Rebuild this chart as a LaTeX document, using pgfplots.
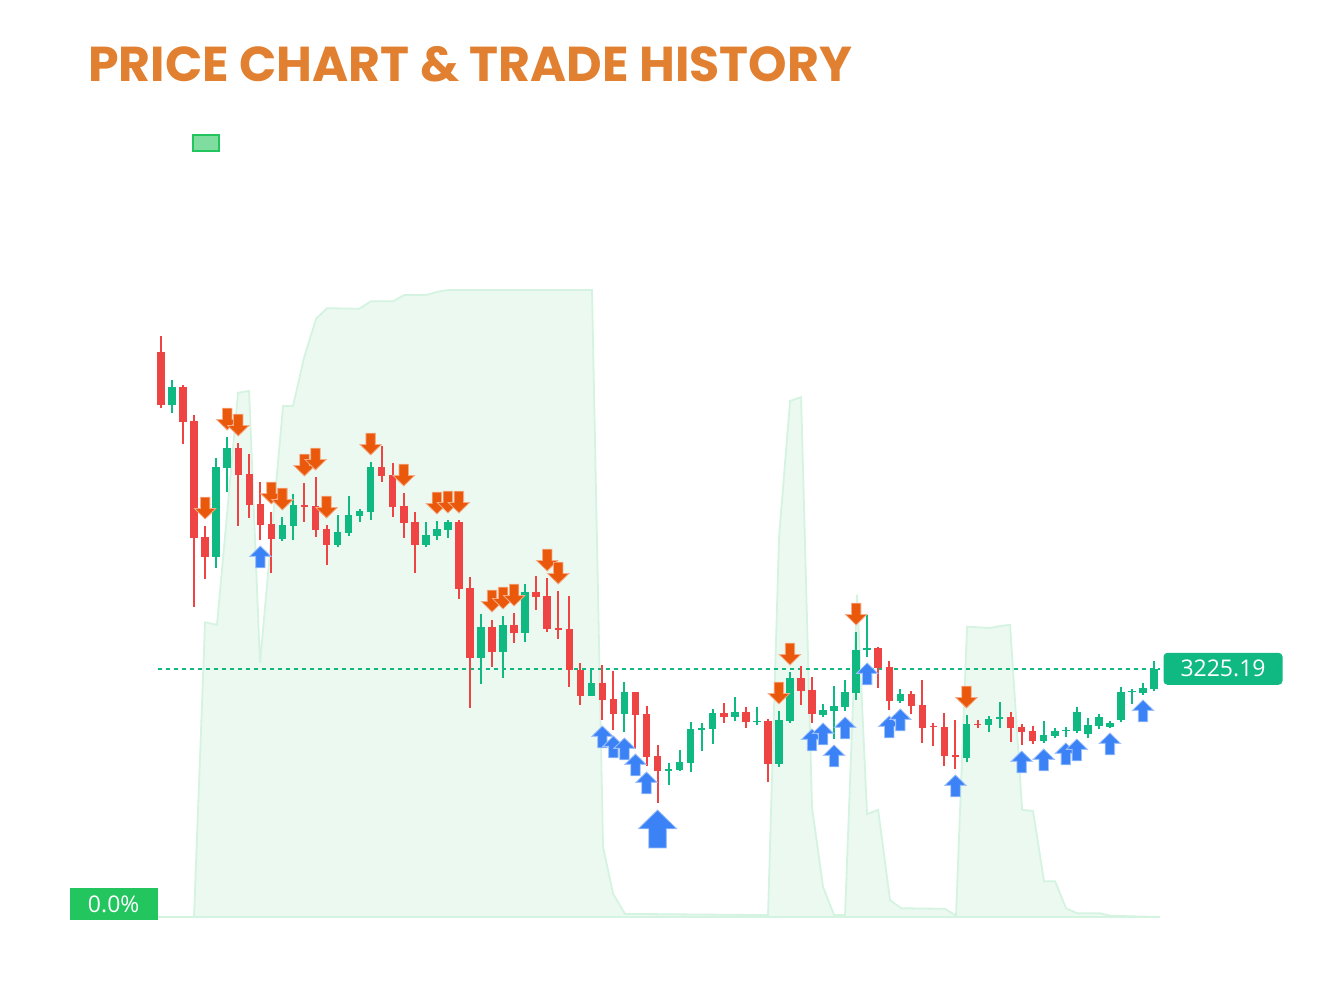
\documentclass[border=0pt]{standalone}
\usepackage{fontspec}
\setmainfont{Open Sans}
\newfontfamily\titlefont{Poppins}
\usepackage{pgfplots}
\pgfplotsset{compat=1.18}
\usepackage{pgfplotstable}

\definecolor{candgreen}{RGB}{16,185,129}
\definecolor{candred}{RGB}{239,68,68}
\definecolor{sellorange}{RGB}{234,88,12}
\definecolor{buyblue}{RGB}{59,130,246}
\definecolor{titleorange}{RGB}{225,128,48}
\definecolor{legendfill}{RGB}{128,221,160}
\definecolor{legendborder}{RGB}{34,197,94}
\definecolor{zerolab}{RGB}{34,197,94}
\definecolor{areafill}{RGB}{236,249,241}
\definecolor{areaedge}{RGB}{212,243,225}

\pgfdeclareplotmark{sell}{%
  \pgfpathmoveto{\pgfpoint{0pt}{0pt}}%
  \pgfpathlineto{\pgfpoint{5.3pt}{5.2pt}}%
  \pgfpathlineto{\pgfpoint{2.35pt}{5.2pt}}%
  \pgfpathlineto{\pgfpoint{2.35pt}{10.9pt}}%
  \pgfpathlineto{\pgfpoint{-2.35pt}{10.9pt}}%
  \pgfpathlineto{\pgfpoint{-2.35pt}{5.2pt}}%
  \pgfpathlineto{\pgfpoint{-5.3pt}{5.2pt}}%
  \pgfpathclose
  \pgfusepathqfillstroke}
\pgfdeclareplotmark{buy}{%
  \pgfpathmoveto{\pgfpoint{0pt}{0pt}}%
  \pgfpathlineto{\pgfpoint{5.3pt}{-5.2pt}}%
  \pgfpathlineto{\pgfpoint{2.35pt}{-5.2pt}}%
  \pgfpathlineto{\pgfpoint{2.35pt}{-10.9pt}}%
  \pgfpathlineto{\pgfpoint{-2.35pt}{-10.9pt}}%
  \pgfpathlineto{\pgfpoint{-2.35pt}{-5.2pt}}%
  \pgfpathlineto{\pgfpoint{-5.3pt}{-5.2pt}}%
  \pgfpathclose
  \pgfusepathqfillstroke}
\pgfdeclareplotmark{bigbuy}{%
  \pgfpathmoveto{\pgfpoint{0pt}{0pt}}%
  \pgfpathlineto{\pgfpoint{9.6pt}{-9.4pt}}%
  \pgfpathlineto{\pgfpoint{4.4pt}{-9.4pt}}%
  \pgfpathlineto{\pgfpoint{4.4pt}{-19pt}}%
  \pgfpathlineto{\pgfpoint{-4.4pt}{-19pt}}%
  \pgfpathlineto{\pgfpoint{-4.4pt}{-9.4pt}}%
  \pgfpathlineto{\pgfpoint{-9.6pt}{-9.4pt}}%
  \pgfpathclose
  \pgfusepathqfillstroke}

\pgfplotstableread{
i o h l c
1 3489 3514 3481 3507
5 3337 3436 3326 3427
6 3426 3457 3402 3446
11 3355 3377 3353 3369
12 3368 3400 3354 3389
16 3349 3379 3347 3362
17 3361 3398 3358 3379
18 3378 3385 3372 3383
19 3382 3432 3374 3427
24 3349 3372 3347 3359
25 3358 3373 3354 3365
26 3364 3374 3356 3372
29 3236 3280 3210 3267
31 3242 3278 3216 3269
33 3261 3310 3252 3302
39 3198 3224 3198 3211
42 3180 3212 3162 3202
46 3123 3131 3109 3125
47 3124 3144 3123 3132
48 3131 3172 3122 3165
49 3164 3171 3143 3166
50 3165 3185 3150 3181
52 3177 3197 3173 3182
54 3172 3187 3169 3173
56 3130 3183 3127 3174
57 3173 3222 3171 3216
60 3179 3190 3177 3184
61 3183 3208 3155 3188
62 3187 3214 3183 3202
63 3201 3262 3194 3244
64 3244 3279 3237 3246
67 3193 3205 3191 3200
73 3136 3179 3132 3170
75 3169 3178 3162 3175
76 3175 3192 3166 3177
80 3153 3173 3151 3159
81 3158 3166 3156 3163
82 3163 3167 3157 3164
83 3163 3187 3161 3182
84 3160 3176 3156 3169
85 3168 3180 3165 3177
86 3167 3173 3166 3171
87 3174 3207 3172 3202
88 3202 3205 3190 3203
89 3201 3211 3199 3206
90 3205 3233 3203 3225.19
}\greentab

\pgfplotstableread{
i o h l c
0 3542 3558 3486 3489
2 3507 3509 3450 3472
3 3473 3479 3287 3356
4 3357 3368 3315 3337
7 3446 3451 3368 3419
8 3420 3440 3376 3389
9 3390 3412 3354 3369
10 3370 3382 3321 3355
13 3389 3411 3372 3387
14 3388 3417 3357 3364
15 3365 3369 3329 3349
20 3427 3448 3412 3418
21 3419 3431 3377 3387
22 3388 3401 3356 3371
23 3372 3382 3321 3349
27 3372 3374 3295 3305
28 3306 3317 3186 3236
30 3267 3274 3227 3242
32 3269 3281 3251 3261
34 3302 3318 3284 3297
35 3298 3316 3262 3265
36 3266 3303 3255 3264
37 3265 3298 3207 3224
38 3224 3231 3189 3198
40 3211 3229 3174 3194
41 3195 3223 3164 3180
43 3202 3202 3145 3179
44 3180 3188 3128 3137
45 3138 3149 3091 3123
51 3181 3191 3171 3177
53 3182 3187 3166 3172
55 3173 3175 3112 3130
58 3216 3228 3189 3203
59 3204 3217 3171 3180
65 3246 3247 3206 3226
66 3227 3233 3184 3193
68 3200 3203 3180 3188
69 3189 3214 3151 3166
70 3168 3171 3148 3167
71 3167 3181 3128 3138
72 3139 3174 3125 3137
74 3170 3174 3166 3169
77 3177 3182 3152 3166
78 3167 3170 3149 3162
79 3163 3168 3150 3153
}\redtab

\pgfplotstableread{
i v
-0.27 0
2.99 0
3.99 47.0
5.07 46.6
6.98 83.6
7.98 83.9
8.97 40.5
11.06 81.5
11.96 81.5
12.96 89.2
14.05 95.4
15.04 97.1
17.95 97.0
19.03 98.2
21.03 98.2
22.02 99.2
24.02 99.2
25.01 99.7
26.01 100
39.06 100
40.06 11.2
40.97 3.7
42.05 0.5
55.01 0.3
56.01 60.6
57.01 82.3
58.01 82.9
59.00 17.5
60.00 4.8
61.00 0.3
61.99 0.3
63.08 51.4
63.99 16.4
64.99 17.1
66.07 2.7
67.07 1.4
71.06 1.3
72.05 0.2
73.05 46.3
75.13 46.1
76.04 46.4
76.95 46.6
78.04 17.1
79.03 16.9
80.03 5.7
81.03 5.7
82.02 1.4
83.02 0.6
85.10 0.6
86.01 0.2
90.53 0
}\areatab

\pgfplotsset{base/.style={at={(75pt,43.5pt)}, anchor=south west, scale only axis,
  width=506pt, height=313.5pt, xmin=-1, xmax=90.72, hide axis, clip=false},
  candle/.style={only marks, mark size=0pt, mark options={draw=none, fill=none}}}

\begin{document}
\begin{tikzpicture}
\path[use as bounding box] (0,0) rectangle (671pt,502pt);
\node[anchor=base west, inner sep=0, text=titleorange,
  font=\titlefont\bfseries\fontsize{24.5}{28}\selectfont] at (44pt,461pt) {PRICE CHART \& TRADE HISTORY};
\draw[draw=legendborder, fill=legendfill, line width=0.9pt] (96.5pt,426.5pt) rectangle (109.5pt,434.5pt);

\begin{axis}[base, ymin=0, ymax=100]
\addplot[fill=areafill, draw=areaedge, line width=0.9pt] table[x=i, y=v] {\areatab} \closedcycle;
\addplot[areaedge, line width=1pt, dash pattern=on 1.5pt off 1.5pt] coordinates {(-0.27,0) (90.53,0)};
\node[anchor=east, fill=zerolab, text=white, minimum width=44pt, minimum height=16pt, inner sep=0pt,
  font=\fontsize{11.5}{13}\selectfont] at (axis cs:-0.27,2.07) {0.0\%};
\end{axis}

\begin{axis}[base, ymin=2977, ymax=3604]
\addplot[candgreen, line width=1pt, dash pattern=on 2pt off 2pt] coordinates {(-0.27,3225.19) (90.53,3225.19)};
% wicks
\addplot[candle, error bars/.cd, y dir=plus, y explicit, error mark=none,
  error bar style={line width=1pt, draw=candgreen}]
  table[x=i, y=l, y error plus expr=\thisrow{h}-\thisrow{l}] {\greentab};
\addplot[candle, error bars/.cd, y dir=plus, y explicit, error mark=none,
  error bar style={line width=1pt, draw=candred}]
  table[x=i, y=l, y error plus expr=\thisrow{h}-\thisrow{l}] {\redtab};
% bodies
\addplot[candle, error bars/.cd, y dir=plus, y explicit, error mark=none,
  error bar style={line width=3.75pt, draw=candgreen}]
  table[x=i, y=o, y error plus expr=\thisrow{c}-\thisrow{o}] {\greentab};
\addplot[candle, error bars/.cd, y dir=plus, y explicit, error mark=none,
  error bar style={line width=3.75pt, draw=candred}]
  table[x=i, y=c, y error plus expr=\thisrow{o}-\thisrow{c}] {\redtab};
% sells
\addplot[only marks, mark=sell, mark options={fill=sellorange, draw=sellorange!50!white, line width=0.4pt}] table {
x y
4 3375
6 3464
7 3458
10 3390
11 3384
13 3418
14 3424
15 3376
19 3439
22 3408
25 3380
26 3381
27 3381
30 3282
31 3285
32 3288
35 3323
36 3310
56 3190
57 3229
63 3269
73 3186
};
% buys
\addplot[only marks, mark=buy, mark options={fill=buyblue, draw=buyblue!50!white, line width=0.4pt}] table {
x y
9 3348
40 3168
41 3158
42 3156
43 3140
44 3122
59 3165
60 3171
61 3149
62 3177
64 3231
66 3178
67 3185
72 3119
78 3143
80 3145
82 3151
83 3155
86 3161
89 3194
};
\addplot[only marks, mark=bigbuy, mark options={fill=buyblue, draw=buyblue!50!white, line width=0.4pt}] table {
x y
45 3084
};
\node[anchor=west, fill=candgreen, text=white, rounded corners=2pt, minimum width=59.5pt, minimum height=16pt, inner sep=0pt,
  font=\fontsize{11.5}{13}\selectfont] at (axis cs:90.82,3225.19) {3225.19};
\end{axis}
\end{tikzpicture}
\end{document}
